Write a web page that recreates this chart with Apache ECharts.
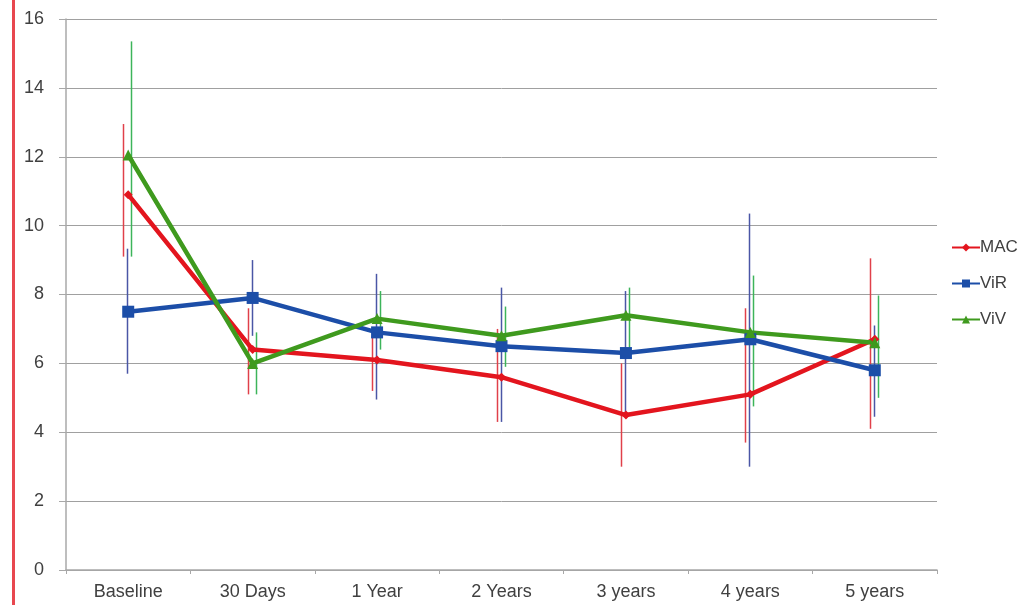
<!DOCTYPE html>
<html>
<head>
<meta charset="utf-8">
<script src="https://cdn.jsdelivr.net/npm/echarts@6/dist/echarts.min.js"></script>
<style>
  html, body { margin: 0; padding: 0; background: #fff; }
  #chart { width: 1029px; height: 605px; }
</style>
</head>
<body>
<div id="chart"></div>
<script>
// Follow-up time points
const categories = ['Baseline', '30 Days', '1 Year', '2 Years', '3 years', '4 years', '5 years'];
const yTicks = [0, 2, 4, 6, 8, 10, 12, 14, 16];

// MAC: mean with lower / upper error limits
const macMean = [10.9, 6.4, 6.1, 5.6, 4.5, 5.1, 6.7];
const macLow  = [9.1, 5.1, 5.2, 4.3, 3.0, 3.7, 4.1];
const macHigh = [12.95, 7.6, 6.8, 7.0, 6.0, 7.6, 9.05];

// ViR
const virMean = [7.5, 7.9, 6.9, 6.5, 6.3, 6.7, 5.8];
const virLow  = [5.7, 6.8, 4.95, 4.3, 4.55, 3.0, 4.45];
const virHigh = [9.33, 9.0, 8.6, 8.2, 8.1, 10.35, 7.1];

// ViV
const vivMean = [12.05, 6.0, 7.3, 6.8, 7.4, 6.9, 6.6];
const vivLow  = [9.1, 5.1, 6.4, 5.9, 6.45, 4.75, 5.0];
const vivHigh = [15.35, 6.9, 8.1, 7.65, 8.2, 8.55, 7.97];

const chart = echarts.init(document.getElementById('chart'), null, { renderer: 'canvas' });

// Vertical error bar drawn through the axis scales, shifted a few pixels per series
function errorBars(name, low, high, color, shift) {
  return {
    type: 'custom',
    name: name,
    z: 1,
    silent: true,
    data: categories.map((c, i) => [i, low[i], high[i]]),
    renderItem: function (params, api) {
      const lo = api.coord([api.value(0), api.value(1)]);
      const hi = api.coord([api.value(0), api.value(2)]);
      const x = Math.round(lo[0] + shift) + 0.5;
      return {
        type: 'line',
        shape: { x1: x, y1: hi[1], x2: x, y2: lo[1] },
        style: { stroke: color, lineWidth: 1.5 }
      };
    }
  };
}

function meanLine(name, values, color, symbol, size) {
  return {
    type: 'line',
    name: name,
    z: 3,
    data: values,
    symbol: symbol,
    symbolSize: size,
    showSymbol: true,
    lineStyle: { color: color, width: 4.5 },
    itemStyle: { color: color },
    emphasis: { disabled: true }
  };
}

const option = {
  animation: false,
  backgroundColor: '#ffffff',
  textStyle: { fontFamily: 'Liberation Sans, Arial, sans-serif' },
  grid: { left: 66, right: 92, top: 19, bottom: 35, containLabel: false },
  legend: {
    data: ['MAC', 'ViR', 'ViV'],
    orient: 'vertical',
    left: 946,
    top: 234,
    itemGap: 19,
    itemWidth: 28,
    itemHeight: 10,
    textStyle: { color: '#404040', fontSize: 17, padding: [0, 0, 0, -5] },
    selectedMode: false
  },
  xAxis: {
    type: 'category',
    data: categories,
    boundaryGap: true,
    axisLine: { lineStyle: { color: '#a8a8a8', width: 1.5 } },
    axisTick: { show: true, length: 4, lineStyle: { color: '#a8a8a8' } },
    axisLabel: { color: '#404040', fontSize: 18, margin: 13 },
    splitLine: { show: false }
  },
  yAxis: {
    type: 'value',
    min: yTicks[0],
    max: yTicks[yTicks.length - 1],
    interval: 2,
    axisLine: { show: true, lineStyle: { color: '#a8a8a8', width: 1.5 } },
    axisTick: { show: true, length: 7, lineStyle: { color: '#a8a8a8' } },
    axisLabel: { color: '#404040', fontSize: 18, margin: 22 },
    splitLine: { show: true, lineStyle: { color: '#a0a0a0', width: 1 } }
  },
  graphic: [
    {
      type: 'rect',
      left: 12,
      top: 0,
      shape: { width: 3, height: 605 },
      style: { fill: '#e8474f' },
      silent: true
    }
  ],
  series: [
    errorBars('MAC err', macLow, macHigh, '#e0404a', -5),
    errorBars('ViR err', virLow, virHigh, '#4a56a6', -1),
    errorBars('ViV err', vivLow, vivHigh, '#3cb45a', 3),
    meanLine('MAC', macMean, '#e3151e', 'diamond', 9),
    meanLine('ViR', virMean, '#1c4ea8', 'rect', 12),
    meanLine('ViV', vivMean, '#3f9a1e', 'triangle', 11)
  ]
};

chart.setOption(option);
</script>
</body>
</html>
